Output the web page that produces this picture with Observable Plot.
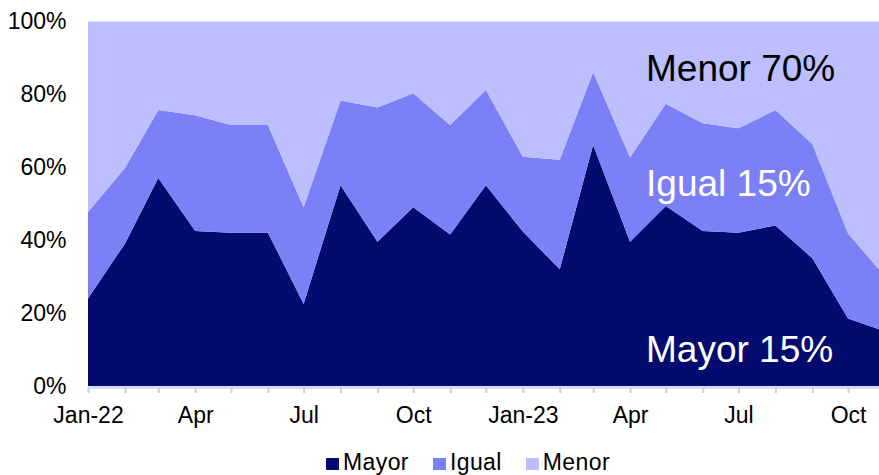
<!DOCTYPE html>
<html>
<head>
<meta charset="utf-8">
<script src="https://cdn.jsdelivr.net/npm/d3@7"></script>
<script src="https://cdn.jsdelivr.net/npm/@observablehq/plot@0.6"></script>
<style>
  html, body { margin: 0; padding: 0; background: #fff; width: 879px; height: 475px; overflow: hidden; }
  #wrap { position: relative; width: 879px; height: 475px; font-family: "Liberation Sans", Arial, sans-serif; }
  #legend { position: absolute; left: 326px; top: 449px; display: flex; font-size: 23px; line-height: 26px; color: #000; white-space: nowrap; letter-spacing: 0.4px; }
  .item { display: inline-flex; align-items: baseline; margin-right: 24px; }
  .sw { display: inline-block; width: 13px; height: 12px; margin-right: 4px; }
</style>
</head>
<body>
<div id="wrap"><div id="chart"></div><div id="legend"></div></div>
<script>
const months = ["2022-01","2022-02","2022-03","2022-04","2022-05","2022-06","2022-07","2022-08","2022-09","2022-10","2022-11","2022-12",
                "2023-01","2023-02","2023-03","2023-04","2023-05","2023-06","2023-07","2023-08","2023-09","2023-10","2023-11"];
const tickLabels = ["Jan-22","","","Apr","","","Jul","","","Oct","","",
                    "Jan-23","","","Apr","","","Jul","","","Oct",""];
const series = ["Mayor","Igual","Menor"];
const colors = ["#030B6E","#7B80F7","#BCBEFD"];
const mayor = [24, 39, 57, 42.5, 42, 42, 22.5, 55, 39.5, 49, 41.5, 55, 42.3, 32, 66, 39.5, 49.3, 42.5, 42, 44, 35, 18.5, 15];
const igual = [23.7, 20.7, 18.6, 31.7, 29.5, 29.5, 26.5, 23.2, 36.8, 31.2, 30, 26.1, 20.5, 30, 20, 23.1, 28, 29.5, 28.6, 31.6, 31.3, 23.3, 15];
const menor = [52.3, 40.3, 24.4, 25.8, 28.5, 28.5, 51, 21.8, 23.7, 19.8, 28.5, 18.9, 37.2, 38, 14, 37.4, 22.7, 28, 29.4, 24.4, 33.7, 58.2, 70];
const yTicks = [0, 20, 40, 60, 80, 100];
// annotation anchors (date, y-level in %) and text colours
const annDates = ["2023-04-14","2023-04-14","2023-04-14"];
const annY = [6.6, 52.1, 83.8];
const annFill = ["white","white","black"];

const parse = s => new Date(s + (s.length === 7 ? "-01" : "") + "T00:00:00Z");
const values = [mayor, igual, menor];
const data = [];
series.forEach((s, k) => months.forEach((m, i) => data.push({date: parse(m), series: s, value: values[k][i]})));
const labelMap = new Map(months.map((m, i) => [+parse(m), tickLabels[i]]));
const ann = series.map((s, k) => ({date: parse(annDates[k]), y: annY[k], text: `${s} ${values[k][values[k].length - 1]}%`, fill: annFill[k]}));

const chart = Plot.plot({
  width: 879,
  height: 440,
  marginLeft: 88,
  marginRight: -6,
  marginTop: 21,
  marginBottom: 54,
  style: {fontFamily: "'Liberation Sans', Arial, sans-serif", fontSize: "23px", background: "white", overflow: "hidden"},
  x: {type: "utc", domain: [parse(months[0]), parse(months[months.length - 1])]},
  y: {domain: [0, 100]},
  color: {domain: series, range: colors},
  marks: [
    Plot.areaY(data, {x: "date", y: "value", z: "series", fill: "series", order: series}),
    Plot.ruleY([100], {stroke: "#dcdefd", strokeWidth: 1}),
    Plot.ruleY([0], {stroke: "#c8cbf8", strokeWidth: 2, dy: 1}),
    Plot.axisX({ticks: months.map(parse), tickSize: 6, stroke: "#c8cbf8", strokeWidth: 2, tickFormat: () => "", dy: 1}),
    Plot.axisX({ticks: months.map(parse).filter(d => labelMap.get(+d)), tickSize: 0, tickPadding: 20, tickFormat: d => labelMap.get(+d), fill: "black", fontSize: 23}),
    Plot.axisY({ticks: yTicks, tickSize: 0, tickPadding: 22, tickFormat: d => d + "%", fill: "black", fontSize: 23}),
    Plot.text(ann, {x: "date", y: "y", text: "text", fill: "fill", textAnchor: "start", lineAnchor: "bottom", fontSize: 37})
  ]
});
document.getElementById("chart").appendChild(chart);

const legend = document.getElementById("legend");
series.forEach((s, k) => {
  const it = document.createElement("span");
  it.className = "item";
  const sw = document.createElement("span");
  sw.className = "sw";
  sw.style.background = colors[k];
  it.appendChild(sw);
  it.appendChild(document.createTextNode(s));
  legend.appendChild(it);
});
</script>
</body>
</html>
